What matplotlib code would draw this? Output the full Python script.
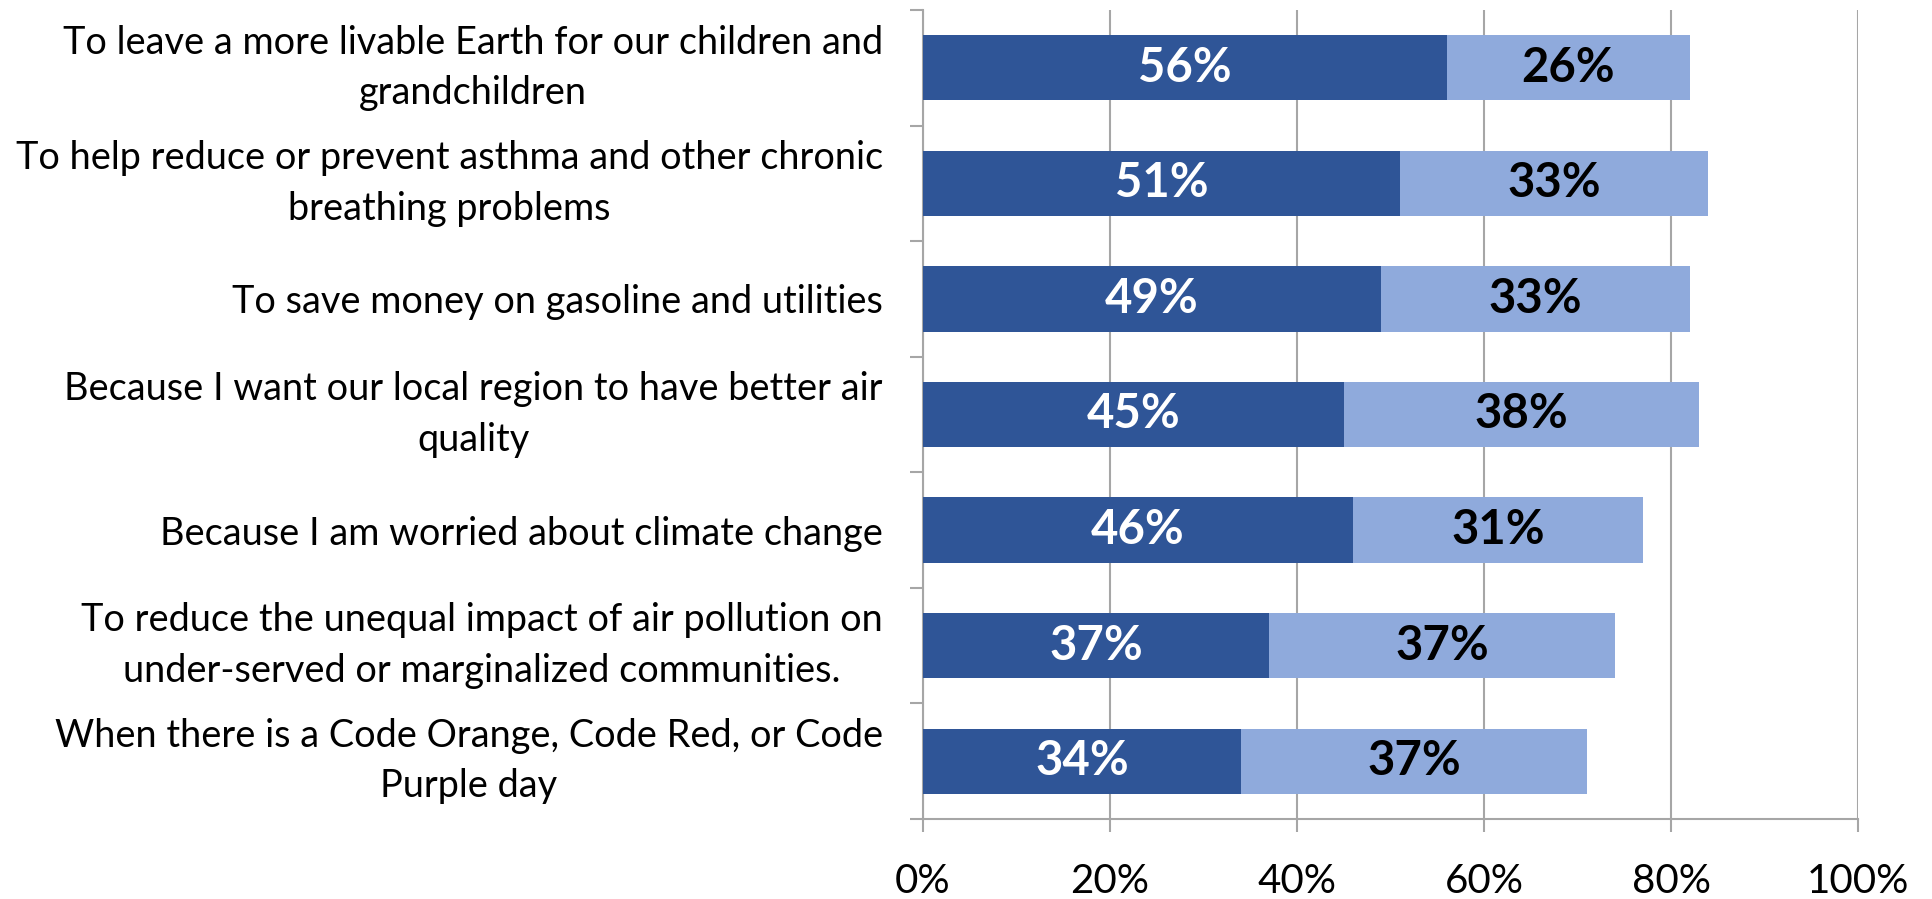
import matplotlib
matplotlib.use("Agg")
import matplotlib.pyplot as plt
import numpy as np

plt.rcParams['font.family'] = ['Lato', 'DejaVu Sans']

categories = [
    "To leave a more livable Earth for our children and\ngrandchildren",
    "To help reduce or prevent asthma and other chronic\nbreathing problems",
    "To save money on gasoline and utilities",
    "Because I want our local region to have better air\nquality",
    "Because I am worried about climate change",
    "To reduce the unequal impact of air pollution on\nunder-served or marginalized communities.",
    "When there is a Code Orange, Code Red, or Code\nPurple day",
]
strong = [56, 51, 49, 45, 46, 37, 34]
somewhat = [26, 33, 33, 38, 31, 37, 37]
xticks = [0, 20, 40, 60, 80, 100]
xtick_labels = ["0%", "20%", "40%", "60%", "80%", "100%"]

dark = "#2F5597"
light = "#8FAADC"
grid_c = "#A6A6A6"

fig = plt.figure(figsize=(19.32, 8.99), dpi=100)
ax = fig.add_axes([923/1932, 1 - 819/899, (1858-923)/1932, (819-10)/899])

n = len(categories)
y = np.arange(n)
h = 0.565
ax.barh(y, strong, height=h, color=dark, zorder=3)
ax.barh(y, somewhat, left=strong, height=h, color=light, zorder=3)

for i in range(n):
    ax.text(strong[i]/2, y[i], f"{strong[i]}%", ha="center", va="center",
            color="white", fontsize=34, fontweight="bold", zorder=4)
    ax.text(strong[i] + somewhat[i]/2, y[i], f"{somewhat[i]}%", ha="center", va="center",
            color="black", fontsize=34, fontweight="bold", zorder=4)

ax.set_xlim(0, 100)
ax.set_ylim(n - 0.5, -0.5)
ax.set_xticks(xticks)
ax.set_xticklabels(xtick_labels, fontsize=29)
ax.xaxis.grid(True, color=grid_c, linewidth=1.5, zorder=0)
ax.set_axisbelow(True)

ax.set_yticks(np.arange(n + 1) - 0.5)
ax.set_yticklabels([])
ax.set_yticks(y, minor=True)
labels = ax.set_yticklabels(categories, minor=True, fontsize=27.3, multialignment="center",
                            linespacing=1.5)
for t in labels:
    if "\n" in t.get_text():
        t.set_verticalalignment("center")
ax.tick_params(axis="y", which="minor", length=0, pad=29)
ax.tick_params(axis="y", which="major", length=9.5, width=1.5, color=grid_c, direction="out")
ax.tick_params(axis="x", length=9.5, width=1.5, color=grid_c, direction="out", pad=22)

for s in ["top", "right"]:
    ax.spines[s].set_visible(False)
for s in ["left", "bottom"]:
    ax.spines[s].set_color(grid_c)
    ax.spines[s].set_linewidth(1.5)

fig.savefig("out.png", dpi=100)
